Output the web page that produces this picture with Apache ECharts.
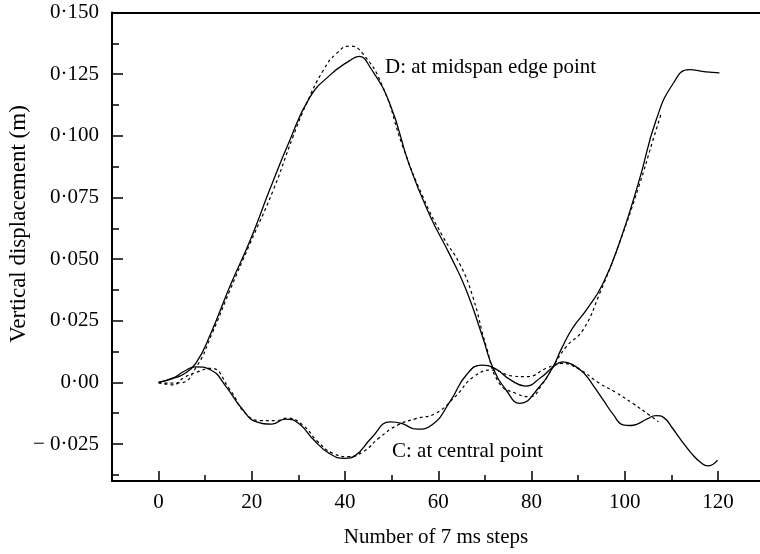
<!DOCTYPE html>
<html>
<head>
<meta charset="utf-8">
<script src="https://cdn.jsdelivr.net/npm/echarts@6/dist/echarts.min.js"></script>
<style>
html,body{margin:0;padding:0;background:#fff;}
#chart{width:760px;height:554px;}
</style>
</head>
<body>
<div id="chart"></div>
<script>
// ---- data ----
const dSolid = [[0,0],[3,0.0015],[5.5,0.0035],[8,0.0078],[11,0.019],[15.3,0.039],[19.6,0.0574],[23.8,0.078],[28.1,0.098],[32.4,0.1155],[36.7,0.1245],[41,0.1305],[43,0.1322],[45.3,0.128],[49.6,0.113],[53.8,0.088],[58.1,0.068],[62.4,0.052],[66,0.0374],[69.5,0.0184],[71.7,0.006],[74.5,-0.003],[77.5,-0.0085],[81.7,-0.0018],[84.5,0.006],[86.5,0.014],[88.8,0.022],[92,0.030],[95.3,0.040],[98.8,0.0563],[103.1,0.082],[106.7,0.1063],[110.3,0.121],[113.8,0.1268],[117.4,0.1259],[120.3,0.1255]];
const dDashed = [[0,-0.0003],[4.6,-0.0002],[8.1,0.0063],[11.5,0.02],[15.3,0.0374],[19.6,0.0563],[24.6,0.078],[28.8,0.0995],[31.7,0.113],[35.3,0.1265],[38.1,0.1333],[41,0.1364],[43.8,0.1333],[48.1,0.1198],[52.4,0.0955],[56.7,0.0752],[61,0.059],[64.6,0.048],[67.4,0.0347],[70.3,0.0144],[73.1,-0.0004],[76.7,-0.0045],[79.6,-0.0058],[82.4,-0.0004],[84.5,0.006],[87.4,0.0144],[91,0.0212],[94.6,0.036],[98.8,0.0563],[103.1,0.080],[106,0.098],[107.8,0.109]];
const cSolid = [[0,0],[3,0.0017],[5.5,0.0045],[7.9,0.0063],[11.2,0.005],[14.5,-0.0018],[17.8,-0.0105],[21,-0.016],[24.3,-0.0169],[27.2,-0.0149],[30,-0.0166],[33.3,-0.0234],[36.6,-0.0288],[39.9,-0.0308],[42.3,-0.0295],[45.6,-0.0227],[49.7,-0.016],[52.1,-0.0166],[55.4,-0.019],[58.6,-0.0173],[62.7,-0.0072],[66,0.003],[69.3,0.007],[72.1,0.0057],[75.5,0.001],[78.7,-0.0015],[82,0.002],[84.5,0.006],[86.7,0.0083],[89,0.007],[91.3,0.0036],[93.5,-0.002],[95.5,-0.0075],[97.5,-0.013],[99.6,-0.0172],[101.2,-0.0175],[102.8,-0.0168],[104.8,-0.0148],[106.7,-0.0135],[108.5,-0.0145],[110.2,-0.0185],[112.3,-0.024],[114.3,-0.0288],[116.3,-0.0325],[117.8,-0.0339],[119.9,-0.0315]];
const cDashed = [[0,0],[3,-0.001],[5.5,0.002],[8,0.004],[11.2,0.0057],[15.3,-0.003],[18.6,-0.0125],[21.9,-0.0155],[25.2,-0.0155],[27.6,-0.0145],[30.9,-0.0173],[34.1,-0.024],[37.4,-0.0288],[40.7,-0.0301],[43.9,-0.0281],[47.2,-0.0227],[51.3,-0.0173],[55.4,-0.0146],[59.4,-0.0126],[63.6,-0.0058],[67.6,0.0023],[71.7,0.005],[75.8,0.0026],[79,0.0023],[83.2,0.0057],[86.4,0.0077],[90,0.0055],[94.6,-0.0004],[98,-0.004],[101.7,-0.0085],[105.3,-0.0133],[107.2,-0.016]];

const xTickValues = [0,20,40,60,80,100,120];
const xMinorTickValues = [10,30,50,70,90,110];
const yTickValues = [-0.025,0,0.025,0.05,0.075,0.1,0.125,0.15];
const yTickLabels = ['\u2212 0\u00b7025','0\u00b700','0\u00b7025','0\u00b7050','0\u00b7075','0\u00b7100','0\u00b7125','0\u00b7150'];
const yMinorTickValues = [-0.0375,-0.0125,0.0125,0.0375,0.0625,0.0875,0.1125,0.1375];

const xName = 'Number of 7 ms steps';
const yName = 'Vertical displacement (m)';
const labelD = 'D: at midspan edge point';
const labelC = 'C: at central point';

// ---- chart ----
const FONT = 'Liberation Serif';
const chart = echarts.init(document.getElementById('chart'), null, {renderer:'canvas'});
const gridBox = {left:112, right:0, top:12.5, bottom:73};
const X_MIN = -10, X_MAX = 129, Y_MIN = -0.04, Y_MAX = 0.15;

function yLabel(v){
  for (let i=0;i<yTickValues.length;i++){ if (Math.abs(yTickValues[i]-v) < 1e-6) return yTickLabels[i]; }
  return '';
}

const lineBase = {type:'line', xAxisIndex:0, yAxisIndex:0, showSymbol:false, smooth:0.5, animation:false, silent:true};

chart.setOption({
  animation:false,
  backgroundColor:'#ffffff',
  grid:[Object.assign({}, gridBox), Object.assign({}, gridBox)],
  xAxis:[
    {gridIndex:0, type:'value', position:'bottom', min:X_MIN, max:X_MAX,
     axisLine:{show:true, onZero:false, lineStyle:{color:'#000', width:2}},
     axisTick:{show:true, inside:true, length:10, customValues:xTickValues, lineStyle:{color:'#000', width:1.5}},
     axisLabel:{show:true, customValues:xTickValues, margin:11, color:'#000', fontFamily:FONT, fontSize:21},
     splitLine:{show:false},
     name:xName, nameLocation:'middle', nameGap:46,
     nameTextStyle:{color:'#000', fontFamily:FONT, fontSize:21}},
    {gridIndex:0, type:'value', position:'top', min:X_MIN, max:X_MAX,
     axisLine:{show:true, onZero:false, lineStyle:{color:'#000', width:2}},
     axisTick:{show:false}, axisLabel:{show:false}, splitLine:{show:false}},
    {gridIndex:1, type:'value', position:'bottom', min:X_MIN, max:X_MAX,
     axisLine:{show:false, onZero:false},
     axisTick:{show:true, inside:true, length:6, customValues:xMinorTickValues, lineStyle:{color:'#000', width:1.5}},
     axisLabel:{show:false}, splitLine:{show:false}}
  ],
  yAxis:[
    {gridIndex:0, type:'value', position:'left', min:Y_MIN, max:Y_MAX,
     axisLine:{show:true, onZero:false, lineStyle:{color:'#000', width:2}},
     axisTick:{show:true, inside:true, length:11, customValues:yTickValues, lineStyle:{color:'#000', width:1.5}},
     axisLabel:{show:true, customValues:yTickValues, margin:13, color:'#000', fontFamily:FONT, fontSize:21, formatter:yLabel},
     splitLine:{show:false}},
    {gridIndex:1, type:'value', position:'left', min:Y_MIN, max:Y_MAX,
     axisLine:{show:false, onZero:false},
     axisTick:{show:true, inside:true, length:7, customValues:yMinorTickValues, lineStyle:{color:'#000', width:1.5}},
     axisLabel:{show:false}, splitLine:{show:false}}
  ],
  series:[
    Object.assign({}, lineBase, {name:'D solid', data:dSolid, lineStyle:{color:'#000', width:1.3, type:'solid'}}),
    Object.assign({}, lineBase, {name:'D dashed', data:dDashed, lineStyle:{color:'#000', width:1.2, type:[3,3]}}),
    Object.assign({}, lineBase, {name:'C solid', data:cSolid, lineStyle:{color:'#000', width:1.3, type:'solid'}}),
    Object.assign({}, lineBase, {name:'C dashed', data:cDashed, lineStyle:{color:'#000', width:1.2, type:[3,3]}})
  ],
  graphic:[
    {type:'text', x:19, y:224, rotation:Math.PI/2, silent:true,
     style:{text:yName, fill:'#000', font:'23px "' + FONT + '"', align:'center', verticalAlign:'middle', textAlign:'center', textVerticalAlign:'middle'}},
    {type:'text', x:385, y:67, silent:true,
     style:{text:labelD, fill:'#000', font:'21px "' + FONT + '"', align:'left', verticalAlign:'middle', textAlign:'left', textVerticalAlign:'middle'}},
    {type:'text', x:392, y:451, silent:true,
     style:{text:labelC, fill:'#000', font:'21px "' + FONT + '"', align:'left', verticalAlign:'middle', textAlign:'left', textVerticalAlign:'middle'}}
  ]
});
</script>
</body>
</html>
